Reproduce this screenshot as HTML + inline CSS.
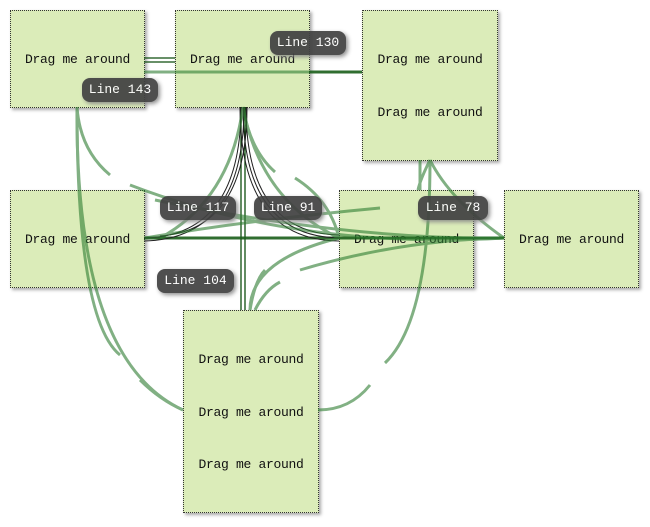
<!DOCTYPE html>
<html><head><style>
body{margin:0;width:650px;height:527px;background:#fff;position:relative;overflow:hidden;font-family:"Liberation Mono","Noto Sans CJK SC",monospace;}
.b{position:absolute;background:#dbecb9;border:1px dotted #333;box-shadow:2px 2px 3px #aaa;box-sizing:border-box;font-size:13px;color:#111;text-align:center;letter-spacing:-0.3px}
.b div{position:absolute;left:0;right:0;}
.l{position:absolute;background:#424242;color:#fff;border-radius:8px;font-size:13px;height:24px;line-height:24px;text-align:center;box-shadow:2px 2px 4px #888;opacity:.93}
svg{position:absolute;left:0;top:0}
</style></head><body>
<div class="b" style="left:10px;top:10px;width:135px;height:98px"><div style="top:41px">Drag me around</div></div>
<div class="b" style="left:175px;top:10px;width:135px;height:98px"><div style="top:41px">Drag me around</div></div>
<div class="b" style="left:362px;top:10px;width:136px;height:151px"><div style="top:41px">Drag me around</div><div style="top:94px">Drag me around</div></div>
<div class="b" style="left:10px;top:190px;width:135px;height:98px"><div style="top:41px">Drag me around</div></div>
<div class="b" style="left:339px;top:190px;width:135px;height:98px"><div style="top:41px">Drag me around</div></div>
<div class="b" style="left:504px;top:190px;width:135px;height:98px"><div style="top:41px">Drag me around</div></div>
<div class="b" style="left:183px;top:310px;width:136px;height:203px"><div style="top:41px">Drag me around</div><div style="top:94px">Drag me around</div><div style="top:146px">Drag me around</div></div>
<svg width="650" height="527" fill="none">
<g stroke="#0d4d0d" stroke-width="1.3">
<line x1="144" y1="58" x2="175" y2="58"/><line x1="144" y1="62" x2="175" y2="62"/>
<line x1="241" y1="107" x2="241" y2="310"/><line x1="245" y1="107" x2="245" y2="310"/>
</g>
<g stroke="#1a5e1a" stroke-width="3" opacity=".9">
<line x1="309" y1="72" x2="362" y2="72"/>
<line x1="144" y1="238" x2="504" y2="238"/>
</g>
<g stroke="#222" stroke-width="1">
<path d="M241 107 Q241 236 144 238"/><path d="M244 107 Q244 239 144 241"/><path d="M247 107 Q247 230 160 236"/>
<path d="M243 107 Q243 236 339 238"/><path d="M246 107 Q246 233 339 235"/><path d="M240 107 Q240 240 339 241"/>
</g>
<g stroke="#2e7d32" stroke-width="3" opacity=".6">
<line x1="144" y1="72" x2="309" y2="72"/>
<path d="M77 107 Q77 320 120 355"/>
<path d="M77 107 Q80 150 110 175"/>
<path d="M77 107 Q75 360 183 410"/>
<path d="M140 380 Q160 400 183 410"/>
<path d="M430 160 Q430 320 385 363"/>
<path d="M430 160 Q420 180 418 190"/>
<path d="M420 160 L420 190"/>
<path d="M318 410 Q350 410 370 385"/>
<path d="M243 107 Q250 150 275 172"/>
<path d="M243 107 Q230 200 160 238"/>
<path d="M243 107 Q260 200 339 238"/>
<path d="M130 185 Q300 250 504 238"/>
<path d="M155 200 Q350 240 504 238"/>
<path d="M295 178 Q330 200 339 238"/>
<path d="M300 270 Q400 240 504 238"/>
<path d="M145 238 Q250 220 380 208"/>
<path d="M250 310 Q255 280 265 270"/>
<path d="M255 310 Q265 290 280 282"/>
<path d="M250 310 Q250 260 339 238"/>
<path d="M430 160 Q450 200 504 238"/>
</g>
</svg>
<div class="l" style="left:270px;top:31px;width:76px">Line 130</div>
<div class="l" style="left:82px;top:78px;width:76px">Line 143</div>
<div class="l" style="left:160px;top:196px;width:76px">Line 117</div>
<div class="l" style="left:254px;top:196px;width:68px">Line 91</div>
<div class="l" style="left:418px;top:196px;width:70px">Line 78</div>
<div class="l" style="left:157px;top:269px;width:77px">Line 104</div>
</body></html>
